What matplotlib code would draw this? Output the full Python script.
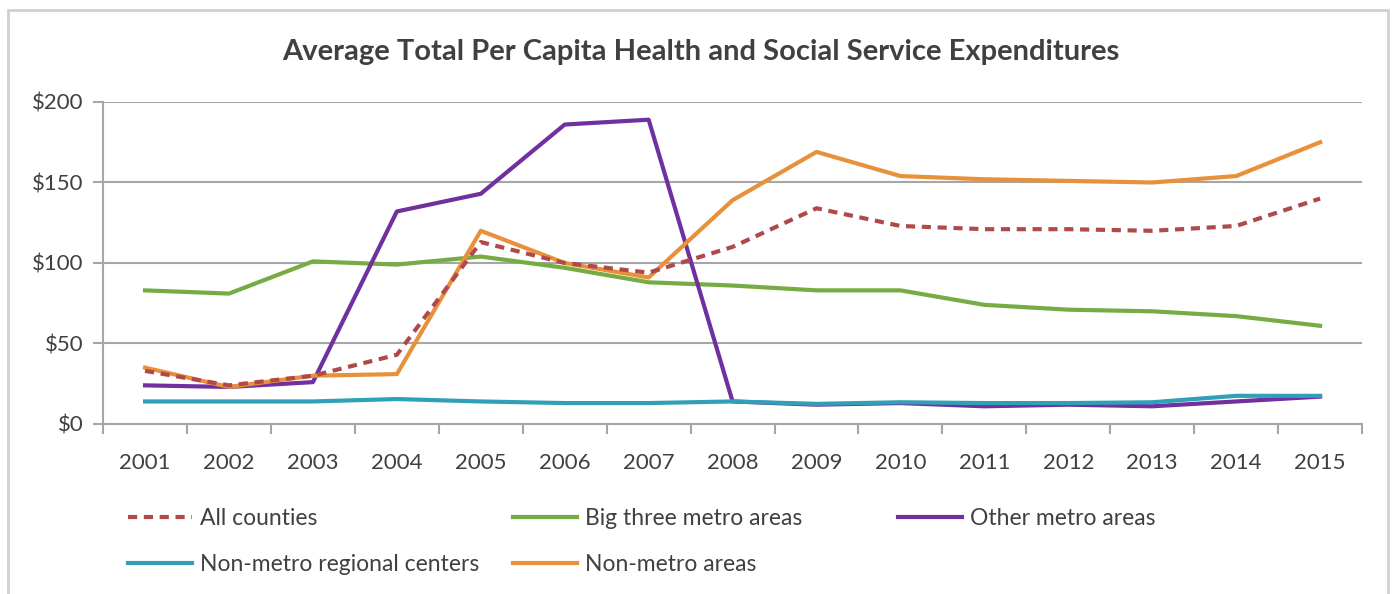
import matplotlib.pyplot as plt
from matplotlib.patches import Rectangle
import numpy as np

plt.rcParams['font.family'] = ['Lato', 'DejaVu Sans']

years = [str(y) for y in range(2001, 2016)]

all_counties = [33, 24, 30, 43, 113, 100, 94, 110, 134, 123, 121, 121, 120, 123, 140]
big_three = [83, 81, 101, 99, 104, 97, 88, 86, 83, 83, 74, 71, 70, 67, 61]
other_metro = [24, 23, 26, 132, 143, 186, 189, 14, 12, 13, 11, 12, 11, 14, 17]
regional_centers = [14, 14, 14, 15.5, 14, 13, 13, 14, 12.5, 13.5, 13, 13, 13.5, 17.5, 17.5]
non_metro = [35, 23, 30, 31, 120, 100, 91, 139, 169, 154, 152, 151, 150, 154, 175]

y_ticks = [0, 50, 100, 150, 200]
y_labels = ["$0", "$50", "$100", "$150", "$200"]

text_color = "#404040"
grid_color = "#a6a6a6"

fig = plt.figure(figsize=(13.93, 5.94), dpi=100)
fig.patches.append(Rectangle((8 / 1393, -0.01), 1380 / 1393, 1 - 10 / 594 + 0.01,
                             transform=fig.transFigure, fill=False,
                             edgecolor="#d0d0d0", lw=2))
ax = fig.add_axes([0.0740, 0.2862, 0.9038, 0.5421])

x = np.arange(len(years))
lw = 3
l_big, = ax.plot(x, big_three, color="#77ab43", lw=lw, zorder=3)
l_other, = ax.plot(x, other_metro, color="#7030a0", lw=lw, zorder=3)
l_reg, = ax.plot(x, regional_centers, color="#31a0b6", lw=lw, zorder=3)
l_non, = ax.plot(x, non_metro, color="#e8913a", lw=lw, zorder=4)
l_all, = ax.plot(x, all_counties, color="#b04a4a", lw=lw, ls=(0, (2.2, 1.6)), zorder=5)

ax.set_xlim(-0.5, len(years) - 0.5)
ax.set_ylim(0, 200)
ax.set_yticks(y_ticks)
ax.set_yticklabels(y_labels)
ax.set_xticks(x)
ax.set_xticklabels(years)
ax.set_xticks(np.arange(-0.5, len(years)), minor=True)
ax.tick_params(axis="x", which="major", length=0, pad=21, labelsize=16, labelcolor=text_color)
ax.tick_params(axis="x", which="minor", length=7, color=grid_color, width=1.5)
ax.tick_params(axis="y", length=7, color=grid_color, width=1.5, pad=7,
               labelsize=16, labelcolor=text_color)
ax.grid(axis="y", color=grid_color, lw=1.5, zorder=0)
for side in ["top", "right"]:
    ax.spines[side].set_visible(False)
for side in ["left", "bottom"]:
    ax.spines[side].set_color(grid_color)
    ax.spines[side].set_linewidth(1.5)

fig.text(0.503, 0.912, "Average Total Per Capita Health and Social Service Expenditures",
         ha="center", va="center", fontsize=21, fontweight="bold", color=text_color)

# Excel-style legend: equal-width columns, filled row by row
columns = [([l_all, l_reg], ["All counties", "Non-metro regional centers"]),
           ([l_big, l_non], ["Big three metro areas", "Non-metro areas"]),
           ([l_other], ["Other metro areas"])]
col_x = [128, 513, 898]
for (hs, ls), cx in zip(columns, col_x):
    leg = fig.legend(hs, ls, loc="upper left", bbox_to_anchor=(cx / 1393, 0.145),
                     frameon=False, fontsize=16.5, handlelength=2.8, handletextpad=0.35,
                     labelspacing=1.1, borderaxespad=0, borderpad=0,
                     labelcolor=text_color)

fig.savefig("out.png", dpi=100)
